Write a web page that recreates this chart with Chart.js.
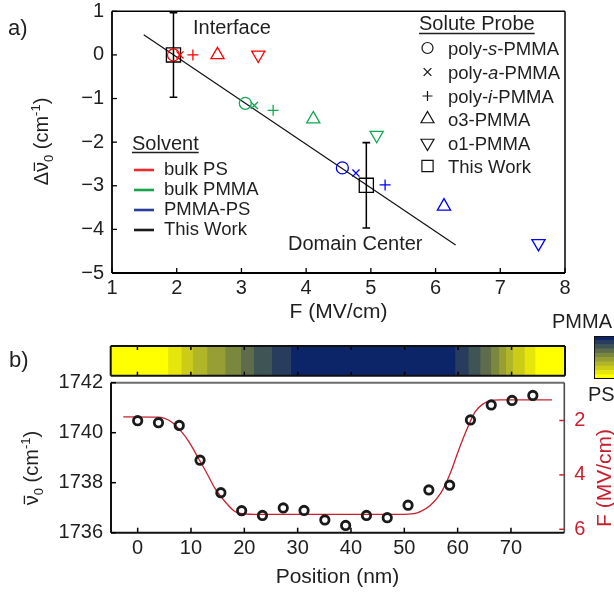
<!DOCTYPE html>
<html>
<head>
<meta charset="utf-8">
<script src="https://cdn.jsdelivr.net/npm/chart.js@4.4.0/dist/chart.umd.min.js"></script>
<style>
  html, body { margin: 0; padding: 0; background: #fff; overflow: hidden; }
  #wrap { position: relative; width: 614px; height: 596px; overflow: hidden; }
  canvas { position: absolute; }
</style>
</head>
<body>
<div id="wrap">
  <canvas id="topChart" width="614" height="330" style="left:0;top:0"></canvas>
  <canvas id="stripChart" width="614" height="90" style="left:0;top:300px"></canvas>
  <canvas id="barChart" width="27" height="43" style="left:594px;top:336px"></canvas>
  <canvas id="bottomChart" width="614" height="226" style="left:0;top:370px"></canvas>
</div>
<script>
// ---- panel a) data ----
const probes = ["poly-s-PMMA", "poly-a-PMMA", "poly-i-PMMA", "o3-PMMA", "o1-PMMA"];
const solvents = ["bulk PS", "bulk PMMA", "PMMA-PS", "This Work"];
const bulkPS_F = [1.95, 2.05, 2.25, 2.63, 3.26];
const bulkPS_dv = [0, 0, 0, 0, 0];
const bulkPMMA_F = [3.06, 3.20, 3.49, 4.11, 5.09];
const bulkPMMA_dv = [-1.11, -1.16, -1.27, -1.47, -1.84];
const pmmaPS_F = [4.56, 4.77, 5.22, 6.13, 7.59];
const pmmaPS_dv = [-2.59, -2.71, -2.98, -3.47, -4.32];
const thisWork_F = [1.95, 4.93];
const thisWork_dv = [0, -2.99];
const thisWork_err = [0.97, 0.98];
const fitLine_F = [1.49, 6.31];
const fitLine_dv = [0.46, -4.36];
const fTicks = [1, 2, 3, 4, 5, 6, 7, 8];
const dvTicks = [-5, -4, -3, -2, -1, 0, 1];

// ---- panel b) data ----
const position = [0, 3.9, 7.8, 11.7, 15.6, 19.5, 23.4, 27.3, 31.2, 35.1, 39.0, 42.9, 46.8, 50.7, 54.6, 58.5, 62.4, 66.3, 70.2, 74.1];
const nu0 = [1740.48, 1740.40, 1740.29, 1738.90, 1737.60, 1736.88, 1736.69, 1736.99, 1736.89, 1736.51, 1736.29, 1736.69, 1736.60, 1737.10, 1737.71, 1737.90, 1740.51, 1741.11, 1741.29, 1741.49];
const fitPos = [-2.7, 3.8, 6.3, 8.2, 9.6, 11.4, 13.0, 14.5, 16.4, 18.3, 20.1, 22.0, 49.3, 51.8, 53.0, 54.9, 56.8, 58.6, 60.3, 61.8, 63.3, 64.9, 66.1, 68.0, 77.7];
const fitNu = [1740.63, 1740.62, 1740.44, 1740.04, 1739.64, 1738.97, 1738.37, 1737.77, 1737.24, 1736.84, 1736.75, 1736.73, 1736.73, 1736.76, 1736.84, 1737.10, 1737.57, 1738.37, 1739.37, 1740.17, 1740.84, 1741.17, 1741.28, 1741.31, 1741.31];
const posTicks = [0, 10, 20, 30, 40, 50, 60, 70];
const nuTicks = [1736, 1738, 1740, 1742];
const fRightTicks = [2, 4, 6];
// composition strip (position edges of each band)
const stripEdges = [-5, 5.7, 8.2, 10.3, 13.0, 16.4, 19.3, 21.75, 25.1, 28.65, 59.4, 61.9, 64.1, 66.1, 67.6, 68.9, 70.2, 72.4, 74.4, 80];
const stripLevel = [0, 1, 2, 3, 4, 5, 6, 7, 8, 9, 8, 7, 6, 5, 4, 3, 2, 1, 0];

// colours
const cmap = ["#ffff00", "#e6e60c", "#cccc18", "#b0b628", "#979e34", "#7a883e", "#5e6c4c", "#3f5454", "#283c5e", "#0c2468"];
const markerColors = ["#ff0000", "#10a850", "#0000ff", "#000000"];
const legendColors = ["#ee2a2a", "#16a44c", "#2b3c9b", "#1a1a1a"];
const RED = "#c8202e";
const TXT = "#1f1f1f";
const FONT = '"Liberation Sans", Arial, Helvetica, sans-serif';

const probeStyle = ["circle", "crossRot", "cross", "triangle", "triangle"];
const probeRot = [0, 0, 0, 0, 180];
const probeRadius = [6, 5, 5.5, 7.6, 7.6];

function pts(xs, ys) { return xs.map((x, i) => ({ x: x, y: ys[i] })); }

function rich(ctx, parts, x, y, opts) {
  opts = opts || {};
  ctx.save();
  ctx.translate(x, y);
  if (opts.rot) ctx.rotate(opts.rot);
  ctx.fillStyle = opts.color || TXT;
  ctx.strokeStyle = opts.color || TXT;
  let total = 0;
  parts.forEach(p => {
    ctx.font = (p.italic ? "italic " : "") + p.size + "px " + FONT;
    p.w = ctx.measureText(p.t).width;
    total += p.w;
  });
  let cx = opts.align === "left" ? 0 : -total / 2;
  const base = opts.base;
  ctx.textBaseline = "alphabetic";
  ctx.textAlign = "left";
  parts.forEach(p => {
    ctx.font = (p.italic ? "italic " : "") + p.size + "px " + FONT;
    ctx.fillText(p.t, cx, base + (p.dy || 0));
    if (p.bar) {
      ctx.lineWidth = 1.3;
      ctx.beginPath();
      ctx.moveTo(cx + 1, base - p.size * 0.68);
      ctx.lineTo(cx + p.w - 0.5, base - p.size * 0.68);
      ctx.stroke();
    }
    cx += p.w;
  });
  ctx.restore();
  return total;
}

function text(ctx, t, x, y, size, align, color) {
  ctx.save();
  ctx.font = size + "px " + FONT;
  ctx.fillStyle = color || TXT;
  ctx.textAlign = align || "left";
  ctx.textBaseline = "middle";
  ctx.fillText(t, x, y);
  ctx.restore();
}

function marker(ctx, style, x, y, r) {
  ctx.beginPath();
  if (style === "circle") ctx.arc(x, y, r, 0, Math.PI * 2);
  if (style === "x") { ctx.moveTo(x - r, y - r); ctx.lineTo(x + r, y + r); ctx.moveTo(x + r, y - r); ctx.lineTo(x - r, y + r); }
  if (style === "+") { ctx.moveTo(x - r, y); ctx.lineTo(x + r, y); ctx.moveTo(x, y - r); ctx.lineTo(x, y + r); }
  if (style === "up") { ctx.moveTo(x, y - r); ctx.lineTo(x + r * 0.866, y + r / 2); ctx.lineTo(x - r * 0.866, y + r / 2); ctx.closePath(); }
  if (style === "down") { ctx.moveTo(x, y + r); ctx.lineTo(x + r * 0.866, y - r / 2); ctx.lineTo(x - r * 0.866, y - r / 2); ctx.closePath(); }
  if (style === "sq") ctx.rect(x - r, y - r, 2 * r, 2 * r);
  ctx.stroke();
}

// ticks drawn inside the plot, at the values of the tick arrays
function innerTicks(specs) {
  return {
    id: "innerTicks",
    afterDatasetsDraw(chart) {
      const ctx = chart.ctx, a = chart.chartArea;
      ctx.save();
      specs.forEach(sp => {
        const sc = chart.scales[sp.scale];
        ctx.strokeStyle = sp.color || "#000";
        ctx.lineWidth = sp.width || 1.3;
        sp.values.forEach(v => {
          const p = sc.getPixelForValue(v);
          ctx.beginPath();
          if (sp.side === "bottom") { ctx.moveTo(p, a.bottom); ctx.lineTo(p, a.bottom - sp.len); }
          if (sp.side === "top") { ctx.moveTo(p, a.top); ctx.lineTo(p, a.top + sp.len); }
          if (sp.side === "left") { ctx.moveTo(a.left, p); ctx.lineTo(a.left + sp.len, p); }
          if (sp.side === "right") { ctx.moveTo(a.right, p); ctx.lineTo(a.right - sp.len, p); }
          ctx.stroke();
        });
      });
      ctx.restore();
    }
  };
}

function frame(edges) {
  return {
    id: "frame",
    afterDatasetsDraw(chart) {
      const ctx = chart.ctx, a = chart.chartArea;
      ctx.save();
      edges.forEach(e => {
        ctx.strokeStyle = e.color;
        ctx.lineWidth = e.width;
        ctx.beginPath();
        if (e.side === "top") { ctx.moveTo(a.left, a.top); ctx.lineTo(a.right, a.top); }
        if (e.side === "bottom") { ctx.moveTo(a.left, a.bottom); ctx.lineTo(a.right, a.bottom); }
        if (e.side === "left") { ctx.moveTo(a.left, a.top); ctx.lineTo(a.left, a.bottom); }
        if (e.side === "right") { ctx.moveTo(a.right, a.top); ctx.lineTo(a.right, a.bottom); }
        ctx.stroke();
      });
      ctx.restore();
    }
  };
}

const tickFont = { family: FONT, size: 20 };
const minus = v => (v < 0 ? "\u2212" + Math.abs(v) : String(v));
const plain = v => String(v);

// ================= panel a =================
const solventSets = [[bulkPS_F, bulkPS_dv], [bulkPMMA_F, bulkPMMA_dv], [pmmaPS_F, pmmaPS_dv]];
const topDatasets = solventSets.map((s, k) => ({
  label: solvents[k],
  data: pts(s[0], s[1]),
  showLine: false,
  pointStyle: probeStyle,
  rotation: probeRot,
  pointRadius: probeRadius,
  pointBorderWidth: 1.3,
  pointBorderColor: markerColors[k],
  pointBackgroundColor: "rgba(0,0,0,0)"
}));
topDatasets.push({
  label: "This Work",
  data: pts(thisWork_F, thisWork_dv),
  showLine: false,
  pointStyle: "rect",
  pointRadius: 10,
  pointBorderWidth: 1.3,
  pointBorderColor: "#000",
  pointBackgroundColor: "rgba(0,0,0,0)"
});
thisWork_F.forEach((f, i) => {
  topDatasets.push({
    label: "err" + i,
    data: [{ x: f, y: thisWork_dv[i] - thisWork_err[i] }, { x: f, y: thisWork_dv[i] + thisWork_err[i] }],
    showLine: true,
    borderColor: "#000",
    borderWidth: 1.5,
    pointStyle: "line",
    pointRadius: 3.8,
    pointBorderWidth: 1.6,
    pointBorderColor: "#000"
  });
});
topDatasets.push({
  label: "fit",
  data: pts(fitLine_F, fitLine_dv),
  showLine: true,
  borderColor: "#111",
  borderWidth: 1.2,
  pointRadius: 0
});

const topText = {
  id: "topText",
  afterDraw(chart) {
    const ctx = chart.ctx;
    text(ctx, "a)", 8, 29, 22);
    text(ctx, "Interface", 193, 28, 20);
    text(ctx, "Domain Center", 288, 244, 20);
    text(ctx, "F (MV/cm)", 338.5, 312, 21, "center");
    rich(ctx, [
      { t: "\u0394", size: 20 }, { t: "\u03bd", size: 20, bar: true }, { t: "0", size: 13, dy: 5 },
      { t: " (cm", size: 20 }, { t: "-1", size: 13, dy: -8 }, { t: ")", size: 20 }
    ], 41, 141.5, { rot: -Math.PI / 2, base: 7 });

    // solute probe legend
    ctx.save();
    ctx.font = "20px " + FONT;
    const w1 = ctx.measureText("Solute Probe").width;
    ctx.restore();
    text(ctx, "Solute Probe", 419, 24, 20);
    ctx.save();
    ctx.strokeStyle = TXT; ctx.lineWidth = 1.3;
    ctx.beginPath(); ctx.moveTo(419, 33.5); ctx.lineTo(419 + w1, 33.5); ctx.stroke();
    ctx.restore();
    const rows = [48, 72, 96, 119, 143, 166];
    const sym = [["circle", 5.5], ["x", 3.8], ["+", 5], ["up", 7.5], ["down", 7.5], ["sq", 5.6]];
    const labels = [
      [{ t: "poly-", size: 18.5 }, { t: "s", size: 18.5, italic: true }, { t: "-PMMA", size: 18.5 }],
      [{ t: "poly-", size: 18.5 }, { t: "a", size: 18.5, italic: true }, { t: "-PMMA", size: 18.5 }],
      [{ t: "poly-", size: 18.5 }, { t: "i", size: 18.5, italic: true }, { t: "-PMMA", size: 18.5 }],
      [{ t: "o3-PMMA", size: 18.5 }],
      [{ t: "o1-PMMA", size: 18.5 }],
      [{ t: "This Work", size: 18.5 }]
    ];
    ctx.save();
    ctx.strokeStyle = "#111"; ctx.lineWidth = 1.2;
    rows.forEach((y, i) => {
      marker(ctx, sym[i][0], 427.5, y, sym[i][1]);
      rich(ctx, labels[i], 448, y, { align: "left", base: 6.6 });
    });
    ctx.restore();

    // solvent legend
    ctx.save();
    ctx.font = "20px " + FONT;
    const w2 = ctx.measureText("Solvent").width;
    ctx.restore();
    text(ctx, "Solvent", 132, 144, 20);
    ctx.save();
    ctx.strokeStyle = TXT; ctx.lineWidth = 1.3;
    ctx.beginPath(); ctx.moveTo(132, 152.5); ctx.lineTo(132 + w2, 152.5); ctx.stroke();
    [170, 190, 210, 230].forEach((y, i) => {
      ctx.strokeStyle = legendColors[i]; ctx.lineWidth = 2.6;
      ctx.beginPath(); ctx.moveTo(134, y); ctx.lineTo(154, y); ctx.stroke();
      text(ctx, solvents[i], 164, y, 18.5);
    });
    ctx.restore();
  }
};

new Chart(document.getElementById("topChart"), {
  type: "scatter",
  data: { datasets: topDatasets },
  options: {
    responsive: false,
    animation: false,
    layout: { padding: { left: 0, top: 10, right: 49, bottom: 0 } },
    plugins: { legend: { display: false }, tooltip: { enabled: false } },
    scales: {
      x: {
        type: "linear", min: 1, max: 8,
        afterBuildTicks: s => { s.ticks = fTicks.map(v => ({ value: v })); },
        afterFit: s => { s.height = 57; s.paddingLeft = 0; s.paddingRight = 0; },
        grid: { display: false, drawTicks: false }, border: { display: false },
        ticks: { padding: 3, color: TXT, font: tickFont, maxRotation: 0, autoSkip: false, callback: plain }
      },
      y: {
        type: "linear", min: -5, max: 1,
        afterBuildTicks: s => { s.ticks = dvTicks.map(v => ({ value: v })); },
        afterFit: s => { s.width = 112; s.paddingTop = 0; s.paddingBottom = 0; },
        grid: { display: false, drawTicks: false }, border: { display: false },
        ticks: { padding: 8, color: TXT, font: tickFont, callback: minus }
      }
    }
  },
  plugins: [
    frame([{ side: "top", color: "#000", width: 1.5 }, { side: "bottom", color: "#000", width: 1.8 },
           { side: "left", color: "#000", width: 1.8 }, { side: "right", color: "#000", width: 1.5 }]),
    innerTicks([{ scale: "x", values: fTicks, side: "bottom", len: 5 }, { scale: "y", values: dvTicks, side: "left", len: 5 }]),
    topText
  ]
});

// ================= panel b: composition strip =================
new Chart(document.getElementById("stripChart"), {
  type: "bar",
  data: {
    labels: ["F"],
    datasets: stripLevel.map((lv, i) => ({
      data: [[stripEdges[i], stripEdges[i + 1]]],
      backgroundColor: cmap[lv],
      borderWidth: 0,
      grouped: false,
      barPercentage: 1,
      categoryPercentage: 1
    }))
  },
  options: {
    indexAxis: "y",
    responsive: false,
    animation: false,
    layout: { padding: { left: 110.7, top: 46, right: 49, bottom: 14.3 } },
    plugins: { legend: { display: false }, tooltip: { enabled: false } },
    scales: {
      x: { type: "linear", min: -5, max: 80, display: false },
      y: { display: false }
    }
  },
  plugins: [
    innerTicks([{ scale: "x", values: posTicks, side: "bottom", len: 4, width: 1.5 }, { scale: "x", values: posTicks, side: "top", len: 4, width: 1.5 }]),
    frame([{ side: "top", color: "#111", width: 2 }, { side: "bottom", color: "#111", width: 2 },
           { side: "left", color: "#111", width: 2 }, { side: "right", color: "#111", width: 2 }]),
    {
      id: "stripText",
      afterDraw(chart) {
        text(chart.ctx, "b)", 9, 61, 22);
        text(chart.ctx, "PMMA", 552, 22, 20);
      }
    }
  ]
});

// colour scale (PS -> PMMA)
new Chart(document.getElementById("barChart"), {
  type: "bar",
  data: {
    labels: ["c"],
    datasets: cmap.map((c, i) => ({
      data: [[i, i + 1]],
      backgroundColor: c,
      borderWidth: 0,
      grouped: false,
      barPercentage: 1,
      categoryPercentage: 1
    }))
  },
  options: {
    responsive: false,
    animation: false,
    layout: { padding: 0 },
    plugins: { legend: { display: false }, tooltip: { enabled: false } },
    scales: {
      x: { display: false },
      y: { type: "linear", min: 0, max: cmap.length, display: false }
    }
  },
  plugins: [frame([{ side: "top", color: "#111", width: 2 }, { side: "bottom", color: "#111", width: 2 },
                   { side: "left", color: "#111", width: 2 }])]
});

// ================= panel b: frequency profile =================
new Chart(document.getElementById("bottomChart"), {
  type: "scatter",
  data: {
    datasets: [
      {
        label: "nu0",
        data: pts(position, nu0),
        yAxisID: "y",
        showLine: false,
        pointStyle: "circle",
        pointRadius: 4.2,
        pointBorderWidth: 2.8,
        pointBorderColor: "#1a1a1a",
        pointBackgroundColor: "rgba(0,0,0,0)"
      },
      {
        label: "fit",
        data: pts(fitPos, fitNu),
        yAxisID: "y",
        showLine: true,
        cubicInterpolationMode: "monotone",
        borderColor: RED,
        borderWidth: 1.3,
        pointRadius: 0
      }
    ]
  },
  options: {
    responsive: false,
    animation: false,
    layout: { padding: { left: 0, top: 12.7, right: 0, bottom: 0 } },
    plugins: { legend: { display: false }, tooltip: { enabled: false } },
    scales: {
      x: {
        type: "linear", min: -5, max: 80,
        afterBuildTicks: s => { s.ticks = posTicks.map(v => ({ value: v })); },
        afterFit: s => { s.height = 63.3; s.paddingLeft = 0; s.paddingRight = 0; },
        grid: { display: false, drawTicks: false }, border: { display: false },
        ticks: { padding: 4, color: TXT, font: tickFont, maxRotation: 0, autoSkip: false, callback: plain }
      },
      y: {
        type: "linear", position: "left", min: 1736, max: 1742,
        afterBuildTicks: s => { s.ticks = nuTicks.map(v => ({ value: v })); },
        afterFit: s => { s.width = 111; s.paddingTop = 0; s.paddingBottom = 0; },
        grid: { display: false, drawTicks: false }, border: { display: false },
        ticks: { padding: 8, color: TXT, font: tickFont, callback: plain }
      },
      y2: {
        type: "linear", position: "right", min: 0.61, max: 6.125, reverse: true,
        afterBuildTicks: s => { s.ticks = fRightTicks.map(v => ({ value: v })); },
        afterFit: s => { s.width = 49.7; s.paddingTop = 0; s.paddingBottom = 0; },
        grid: { display: false, drawTicks: false }, border: { display: false },
        ticks: { padding: 10, color: RED, font: tickFont, callback: plain }
      }
    }
  },
  plugins: [
    frame([{ side: "top", color: "#6e6e6e", width: 2 }, { side: "right", color: "#4a4a4a", width: 1.6 },
           { side: "bottom", color: "#111", width: 2 }, { side: "left", color: "#111", width: 2 }]),
    innerTicks([
      { scale: "x", values: posTicks, side: "bottom", len: 5, width: 1.5 },
      { scale: "y", values: nuTicks, side: "left", len: 5, width: 1.5 },
      { scale: "y2", values: fRightTicks, side: "right", len: 5, width: 1.5, color: RED }
    ]),
    {
      id: "bottomText",
      afterDraw(chart) {
        const ctx = chart.ctx;
        text(ctx, "PS", 588, 25.5, 20);
        text(ctx, "Position (nm)", 337.5, 207, 21, "center");
        rich(ctx, [
          { t: "\u03bd", size: 20, bar: true }, { t: "0", size: 13, dy: 5 },
          { t: " (cm", size: 20 }, { t: "-1", size: 13, dy: -8 }, { t: ")", size: 20 }
        ], 31, 98, { rot: -Math.PI / 2, base: 7 });
        ctx.save();
        ctx.translate(605, 108);
        ctx.rotate(-Math.PI / 2);
        text(ctx, "F (MV/cm)", 0, 0, 21, "center", RED);
        ctx.restore();
      }
    }
  ]
});
</script>
</body>
</html>
